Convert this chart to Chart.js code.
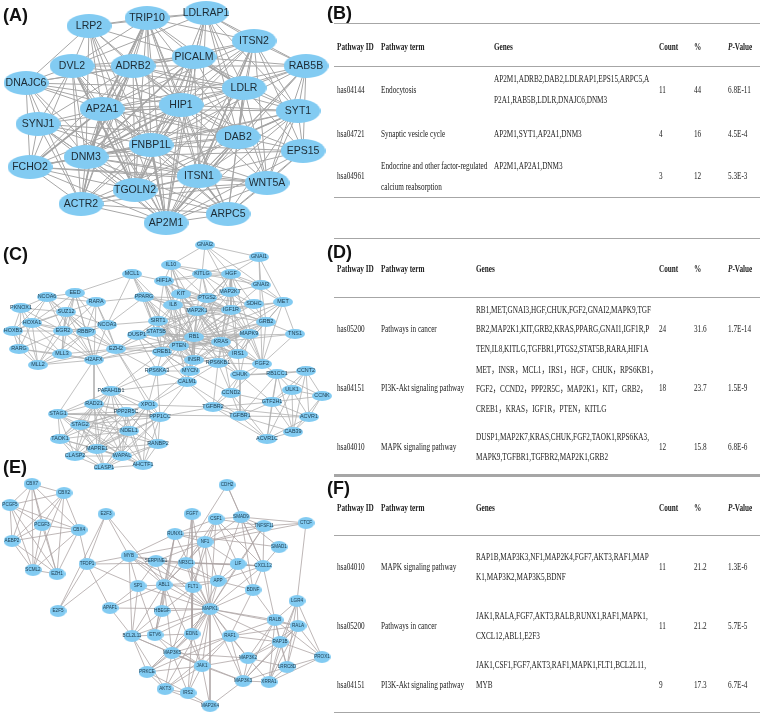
<!DOCTYPE html>
<html lang="en">

<head>
    <meta charset="UTF-8">
    <title>Hub gene networks and pathway tables</title>
    <script src="https://cdn.jsdelivr.net/npm/chart.js"></script>
    <style>
        body {
            background-color: #ffffff;
            margin: 0;
            padding: 0;
            width: 761px;
            height: 714px;
            position: relative;
            overflow: hidden;
            filter: blur(0.3px);
        }

        canvas {
            position: absolute;
            left: 0;
        }

        .cell {
            position: absolute;
            font-family: "Liberation Serif", "Noto Sans CJK SC", serif;
            font-size: 10.4px;
            color: #222222;
            white-space: nowrap;
            transform: translateY(-50%) scaleX(0.695);
            transform-origin: left center;
        }

        .head {
            font-weight: bold;
        }

        .tag {
            position: absolute;
            font-family: "Liberation Sans", Arial, sans-serif;
            font-weight: bold;
            font-size: 18px;
            color: #111111;
            transform: translateY(-50%);
        }

        .rule {
            position: absolute;
            left: 334px;
            width: 426px;
            height: 1px;
            background-color: #a6a6a6;
        }
    </style>
</head>

<body>
    <canvas id="netA" width="335" height="235" style="top:0"></canvas>
    <canvas id="netC" width="335" height="235" style="top:235px"></canvas>
    <canvas id="netE" width="335" height="244" style="top:470px"></canvas>

    <script>
        // Panel A
        const genesA = ["LRP2", "TRIP10", "LDLRAP1", "ITSN2", "RAB5B", "PICALM", "ADRB2", "DVL2", "DNAJC6", "LDLR", "HIP1", "AP2A1", "SYT1", "SYNJ1", "DAB2", "FNBP1L", "EPS15", "DNM3", "FCHO2", "ITSN1", "WNT5A", "TGOLN2", "ACTR2", "ARPC5", "AP2M1"];
        const xA = [89, 147, 206, 254, 306, 194, 133, 72, 26, 244, 181, 102, 298, 38, 238, 151, 303, 86, 30, 199, 267, 135, 81, 228, 166];
        const yA = [26, 18, 13, 41, 66, 57, 66, 66, 83, 88, 105, 109, 111, 124, 137, 145, 151, 157, 167, 176, 183, 190, 204, 214, 223];
        // neighbours by gene, in the order of genesA
        const linksA = [
            "LRP2:TRIP10 LDLRAP1 PICALM ADRB2 DVL2 DNAJC6 HIP1 AP2A1 FNBP1L DNM3 TGOLN2 AP2M1",
            "TRIP10:LDLRAP1 ITSN2 PICALM ADRB2 DVL2 LDLR HIP1 AP2A1 DAB2 FNBP1L DNM3 ITSN1 TGOLN2 AP2M1 ARPC5 ACTR2",
            "LDLRAP1:ITSN2 RAB5B PICALM LDLR HIP1 DAB2 FNBP1L ITSN1 WNT5A AP2M1 SYT1 DVL2",
            "ITSN2:RAB5B PICALM ADRB2 LDLR HIP1 AP2A1 SYT1 DAB2 FNBP1L EPS15 ITSN1 WNT5A AP2M1 DNM3",
            "RAB5B:PICALM ADRB2 LDLR HIP1 SYT1 DAB2 FNBP1L EPS15 ITSN1 WNT5A AP2A1 AP2M1",
            "PICALM:ADRB2 DVL2 LDLR HIP1 AP2A1 DAB2 FNBP1L DNM3 ITSN1 TGOLN2 AP2M1 SYT1 DNAJC6",
            "ADRB2:DVL2 DNAJC6 LDLR HIP1 AP2A1 SYNJ1 DAB2 FNBP1L DNM3 FCHO2 TGOLN2 ACTR2 AP2M1 SYT1",
            "DVL2:DNAJC6 HIP1 AP2A1 SYNJ1 FNBP1L DNM3 FCHO2 TGOLN2 ACTR2 AP2M1 LDLR",
            "DNAJC6:HIP1 AP2A1 SYNJ1 DNM3 FCHO2 TGOLN2 ACTR2 DAB2 LDLR",
            "LDLR:HIP1 AP2A1 SYT1 DAB2 FNBP1L EPS15 ITSN1 WNT5A AP2M1 ARPC5 TGOLN2 DNM3",
            "HIP1:AP2A1 SYT1 SYNJ1 DAB2 FNBP1L EPS15 DNM3 FCHO2 ITSN1 WNT5A TGOLN2 ACTR2 ARPC5 AP2M1",
            "AP2A1:SYNJ1 DAB2 FNBP1L DNM3 FCHO2 ITSN1 TGOLN2 ACTR2 ARPC5 AP2M1 SYT1",
            "SYT1:DAB2 FNBP1L EPS15 ITSN1 WNT5A ARPC5 AP2M1 DNM3",
            "SYNJ1:FNBP1L DNM3 FCHO2 ITSN1 TGOLN2 ACTR2 AP2M1 DAB2",
            "DAB2:FNBP1L EPS15 DNM3 ITSN1 WNT5A TGOLN2 ARPC5 AP2M1 ACTR2",
            "FNBP1L:EPS15 DNM3 FCHO2 ITSN1 WNT5A TGOLN2 ACTR2 ARPC5 AP2M1",
            "EPS15:ITSN1 WNT5A ARPC5 AP2M1 DNM3",
            "DNM3:FCHO2 ITSN1 TGOLN2 ACTR2 ARPC5 AP2M1 WNT5A",
            "FCHO2:ITSN1 TGOLN2 ACTR2 AP2M1 WNT5A",
            "ITSN1:WNT5A TGOLN2 ACTR2 ARPC5 AP2M1",
            "WNT5A:ARPC5 AP2M1 TGOLN2 ACTR2",
            "TGOLN2:ACTR2 ARPC5 AP2M1",
            "ACTR2:ARPC5 AP2M1",
            "ARPC5:AP2M1"
        ];
        const heavyLinksA = [
            "HIP1:TGOLN2 DNM3",
            "FNBP1L:AP2M1 FCHO2",
            "DAB2:AP2M1 SYT1",
            "PICALM:DNM3 LDLR",
            "AP2A1:ACTR2 FCHO2",
            "ITSN2:ITSN1",
            "LDLR:DAB2",
            "TRIP10:AP2A1",
            "ADRB2:DNM3",
            "DVL2:TGOLN2",
            "ITSN1:ARPC5"
        ];

        // Panel C
        const genesC = ["GNAI2", "GNAI1", "IL10", "MCL1", "KITLG", "HGF", "HIF1A", "GNAI3", "MAP2K7", "KIT", "EED", "NCOA6", "PPARG", "PTGS2", "MET", "RARA", "SDHC", "IL8", "PKNOX1", "IGF1R", "MAP2K1", "SUZ12", "SIRT1", "GRB2", "HOXA1", "NCOA3", "EGR2", "HOXB3", "STAT5B", "RBBP7", "MAPK9", "TNS1", "DUSP1", "RB1", "KRAS", "PTEN", "EZH2", "RARG", "CREB1", "IRS1", "MLL3", "H2AFX", "INSR", "FGF2", "RPS6KB1", "MLL2", "RPS6KA3", "MYCN", "CCNT2", "RB1CC1", "CHUK", "CALM1", "ULK1", "PAFAH1B1", "CCND2", "CCNK", "GTF2H1", "XPO1", "RAD21", "TGFBR2", "PPP2R5C", "STAG1", "TGFBR1", "PPP1CC", "ACVR1", "STAG2", "NDEL1", "CAB39", "TAOK1", "ACVR1C", "RANBP2", "MAPRE1", "CLASP2", "WAPAL", "AHCTF1", "CLASP1"];
        const xC = [205, 259, 171, 132, 202, 231, 164, 261, 230, 181, 75, 47, 144, 207, 283, 96, 254, 173, 21, 231, 197, 66, 158, 266, 32, 107, 63, 13, 156, 86, 249, 295, 137, 194, 221, 179, 116, 19, 162, 238, 62, 94, 194, 262, 218, 38, 157, 190, 306, 277, 240, 187, 292, 111, 231, 322, 272, 148, 94, 213, 126, 58, 240, 160, 309, 80, 129, 293, 60, 267, 158, 97, 75, 122, 143, 104];
        const yC = [245, 257, 265, 274, 274, 274, 281, 285, 292, 294, 293, 297, 297, 298, 302, 302, 304, 305, 308, 310, 311, 312, 321, 322, 323, 325, 331, 331, 332, 332, 334, 334, 335, 337, 342, 346, 349, 349, 352, 354, 354, 360, 360, 364, 363, 365, 371, 371, 371, 374, 375, 382, 390, 391, 393, 396, 402, 405, 404, 407, 412, 414, 416, 417, 417, 425, 431, 432, 439, 439, 444, 449, 456, 456, 465, 468];
        const linksC = [
            "NCOA6:EED RARA SUZ12 HOXA1 PKNOX1 EGR2 RBBP7 H2AFX HOXB3",
            "EED:RARA SUZ12 HOXA1 EGR2 RBBP7 MCL1 H2AFX EZH2 MLL3",
            "RARA:SUZ12 EGR2 RBBP7 NCOA3 H2AFX EZH2 PPARG",
            "PKNOX1:HOXA1 HOXB3 SUZ12 RARG EGR2 MLL2",
            "SUZ12:HOXA1 EGR2 RBBP7 H2AFX EZH2 MLL3 HOXB3 MLL2 NCOA3",
            "HOXA1:HOXB3 EGR2 RARG MLL2 MLL3 RBBP7 H2AFX",
            "NCOA3:RBBP7 EGR2 EZH2 H2AFX PPARG SIRT1 MCL1",
            "HOXB3:RARG MLL2 EGR2 MLL3",
            "EGR2:RBBP7 RARG MLL2 MLL3 H2AFX EZH2",
            "RBBP7:MLL3 H2AFX EZH2 MLL2",
            "RARG:MLL2 MLL3 H2AFX",
            "MLL2:MLL3 H2AFX EZH2",
            "MLL3:H2AFX EZH2",
            "H2AFX:EZH2 RB1 PTEN RAD21 PAFAH1B1 STAG1",
            "EZH2:RB1 PTEN DUSP1 CREB1 SIRT1 STAT5B XPO1 PPP1CC RPS6KA3",
            "GNAI2:KITLG HGF GNAI1 GNAI3 MAP2K7 IL10",
            "GNAI1:GNAI3 HGF MET FGF2 KITLG",
            "GNAI3:MET HGF IGF1R MAP2K7 GRB2 KITLG",
            "IL10:HIF1A KITLG MAP2K1 RB1 IL8 PTGS2 KIT HGF",
            "MCL1:PPARG HIF1A STAT5B RB1 PTEN",
            "HIF1A:KIT IL8 PTGS2 MAP2K1 SIRT1 PTEN RB1 IGF1R KITLG HGF INSR",
            "KITLG:KIT HGF MAP2K7 MAP2K1 IGF1R PTGS2 KRAS",
            "HGF:MET MAP2K7 IGF1R MAP2K1 PTGS2 GRB2 KRAS IRS1 FGF2 RB1",
            "MAP2K7:MAP2K1 IGF1R KRAS RB1 PTGS2 MAPK9 GRB2 SDHC",
            "KIT:IL8 PTGS2 MAP2K1 IGF1R RB1 KRAS GRB2 PTEN IRS1",
            "PPARG:SIRT1 IL8 RB1 PTEN STAT5B MAP2K1 IGF1R CREB1 INSR PTGS2",
            "PTGS2:MAP2K1 IGF1R RB1 PTEN KRAS IL8 MAPK9 CREB1 SDHC",
            "MET:GRB2 IGF1R TNS1 FGF2 RB1 MAP2K1 KRAS IRS1",
            "SDHC:IGF1R RB1",
            "IL8:MAP2K1 SIRT1 PTEN RB1 STAT5B CREB1 IGF1R INSR",
            "IGF1R:MAP2K1 RB1 KRAS PTEN IRS1 GRB2 MAPK9 FGF2 INSR RPS6KB1 STAT5B SIRT1",
            "MAP2K1:RB1 KRAS PTEN MAPK9 GRB2 IRS1 SIRT1 STAT5B INSR CREB1 RPS6KB1 DUSP1 FGF2 MYCN CHUK",
            "SIRT1:STAT5B RB1 PTEN DUSP1 CREB1 INSR KRAS MYCN",
            "GRB2:MAPK9 KRAS IRS1 FGF2 RB1 TNS1 INSR PTEN",
            "STAT5B:RB1 PTEN CREB1 DUSP1 KRAS INSR IRS1",
            "MAPK9:KRAS RB1 IRS1 FGF2 PTEN DUSP1 CREB1 RPS6KB1 CHUK",
            "TNS1:FGF2 PTEN RB1",
            "DUSP1:RB1 PTEN CREB1 MYCN RPS6KA3",
            "RB1:KRAS PTEN CREB1 INSR IRS1 MYCN RPS6KB1 CALM1 FGF2 RPS6KA3 CHUK",
            "KRAS:PTEN IRS1 INSR RPS6KB1 FGF2 CREB1 CHUK MYCN CCND2",
            "PTEN:CREB1 INSR IRS1 MYCN RPS6KB1 RPS6KA3 CALM1",
            "CREB1:INSR MYCN RPS6KA3 CALM1 RPS6KB1 PAFAH1B1",
            "IRS1:INSR RPS6KB1 FGF2 CHUK",
            "INSR:RPS6KB1 MYCN CALM1 RPS6KA3",
            "FGF2:RPS6KB1 CHUK RB1CC1 CCND2",
            "RPS6KB1:MYCN CALM1 CHUK TGFBR2 CCND2",
            "RPS6KA3:CALM1 MYCN PAFAH1B1 XPO1 PPP1CC",
            "MYCN:CALM1 CCND2 XPO1",
            "CALM1:XPO1 PPP1CC TGFBR2 PAFAH1B1 TGFBR1",
            "CCNT2:RB1CC1 ULK1 CCNK GTF2H1 ACVR1 CAB39 CHUK",
            "RB1CC1:CHUK ULK1 CCNK GTF2H1 ACVR1C TGFBR1 CAB39",
            "CHUK:CCND2 GTF2H1 TGFBR1 TGFBR2",
            "ULK1:CCNK GTF2H1 ACVR1 CAB39 ACVR1C",
            "CCND2:GTF2H1 TGFBR1 TGFBR2 ACVR1C",
            "CCNK:GTF2H1 ACVR1 CAB39",
            "GTF2H1:TGFBR1 TGFBR2 ACVR1 CAB39 ACVR1C",
            "TGFBR2:TGFBR1 ACVR1 ACVR1C XPO1 PPP1CC",
            "TGFBR1:ACVR1 ACVR1C CAB39 STAG1",
            "ACVR1:CAB39 ACVR1C",
            "CAB39:ACVR1C",
            "PAFAH1B1:RAD21 XPO1 PPP2R5C STAG1 PPP1CC STAG2 NDEL1 MAPRE1 TAOK1 CLASP2 WAPAL",
            "RAD21:XPO1 PPP2R5C STAG1 STAG2 NDEL1 TAOK1 MAPRE1 WAPAL CLASP2 PPP1CC CLASP1 AHCTF1",
            "XPO1:PPP2R5C PPP1CC NDEL1 RANBP2 STAG2 AHCTF1 MAPRE1 CLASP1",
            "PPP2R5C:STAG1 PPP1CC STAG2 NDEL1 TAOK1 MAPRE1 RANBP2 WAPAL CLASP2 AHCTF1",
            "STAG1:STAG2 TAOK1 MAPRE1 CLASP2 NDEL1 PPP1CC WAPAL",
            "PPP1CC:NDEL1 STAG2 RANBP2 WAPAL AHCTF1 MAPRE1 CLASP1",
            "STAG2:NDEL1 TAOK1 MAPRE1 CLASP2 WAPAL CLASP1 AHCTF1 RANBP2",
            "NDEL1:MAPRE1 RANBP2 WAPAL CLASP1 AHCTF1 CLASP2 TAOK1",
            "TAOK1:MAPRE1 CLASP2 CLASP1 WAPAL",
            "RANBP2:WAPAL AHCTF1 MAPRE1 CLASP1",
            "MAPRE1:CLASP2 WAPAL CLASP1 AHCTF1",
            "CLASP2:CLASP1 WAPAL",
            "WAPAL:AHCTF1 CLASP1",
            "AHCTF1:CLASP1"
        ];

        // Panel E
        const genesE = ["CBX7", "CBX2", "PCGF5", "PCGF3", "CBX4", "AEBP2", "SCML2", "EZH1", "E2F3", "TFDP1", "E2F5", "MYB", "APAF1", "SERPINE1", "RUNX1", "NF1", "NR3C1", "FGF7", "CSF1", "CDH2", "SMAD9", "TNFSF11", "SMAD1", "CTCF", "LIF", "CXCL12", "APP", "SP1", "ABL1", "FLT1", "BDNF", "LGR4", "HBEGF", "MAPK1", "RALB", "RALA", "BCL2L11", "ETV6", "EDN1", "RAF1", "RAP1B", "MAP3K5", "MAP3K2", "PRKCE", "JAK1", "LRRC8D", "PROX1", "MAP3K3", "XRRA1", "AKT3", "IRS2", "MAP2K4"];
        const xE = [32, 64, 10, 42, 79, 12, 33, 57, 106, 87, 58, 129, 110, 156, 175, 205, 186, 192, 216, 227, 241, 264, 279, 306, 238, 263, 218, 138, 164, 193, 253, 297, 162, 210, 275, 298, 132, 155, 192, 230, 280, 172, 248, 147, 202, 287, 322, 243, 269, 165, 188, 210];
        const yE = [484, 493, 505, 525, 530, 541, 570, 574, 514, 564, 611, 556, 608, 561, 534, 542, 563, 514, 519, 485, 517, 526, 547, 523, 564, 566, 581, 586, 585, 587, 590, 601, 611, 609, 620, 626, 636, 635, 634, 636, 642, 653, 658, 672, 666, 667, 657, 681, 682, 689, 693, 706];
        const linksE = [
            "CBX7:CBX2 PCGF5 PCGF3 CBX4 AEBP2 SCML2 EZH1",
            "CBX2:PCGF5 PCGF3 CBX4 AEBP2 SCML2 EZH1",
            "PCGF5:PCGF3 CBX4 AEBP2 SCML2 EZH1",
            "PCGF3:CBX4 AEBP2 SCML2 EZH1",
            "CBX4:AEBP2 SCML2 EZH1 TFDP1",
            "AEBP2:SCML2 EZH1",
            "SCML2:EZH1",
            "E2F3:TFDP1 E2F5 MYB ABL1",
            "TFDP1:MYB E2F5 APAF1 SP1 NR3C1",
            "E2F5:MYB",
            "MYB:RUNX1 SERPINE1 NR3C1 SP1 ABL1 MAPK1 BCL2L11 NF1 FLT1",
            "APAF1:SP1 ABL1 MAPK1 BCL2L11",
            "SERPINE1:NF1 APP MAPK1 ABL1 SP1",
            "RUNX1:NF1 ABL1 MAPK1 HBEGF ETV6",
            "NF1:CSF1 TNFSF11 CTCF NR3C1 MAPK1 APP ABL1 LIF FLT1",
            "NR3C1:MAPK1 CSF1 ABL1 APP CXCL12 LIF FLT1",
            "FGF7:EDN1 NR3C1 MAPK1",
            "CSF1:SMAD9 TNFSF11 CXCL12 MAPK1 RUNX1 LIF FLT1",
            "CDH2:SMAD9 CXCL12 ABL1",
            "SMAD9:TNFSF11 SMAD1 CXCL12 CTCF NF1 BDNF APP",
            "TNFSF11:CXCL12 LIF RUNX1 CTCF MAPK1",
            "SMAD1:CXCL12 RUNX1",
            "CTCF:LGR4",
            "LIF:MAPK1 APP BDNF CXCL12",
            "CXCL12:APP MAPK1 BDNF RALB SERPINE1",
            "APP:MAPK1 BDNF ABL1 EDN1 FLT1",
            "SP1:ABL1 MAPK1 BCL2L11 ETV6",
            "ABL1:FLT1 MAPK1 HBEGF ETV6 BCL2L11 MAP3K5 JAK1",
            "FLT1:MAPK1 HBEGF MAP3K5 EDN1",
            "BDNF:MAPK1 RAF1 RALB",
            "LGR4:RALB RALA RAP1B LRRC8D PROX1 XRRA1",
            "HBEGF:MAPK1 ETV6 BCL2L11",
            "MAPK1:RALB RALA RAF1 EDN1 BCL2L11 MAP3K5 JAK1 MAP3K2 MAP3K3 RAP1B PRKCE AKT3 IRS2 MAP2K4 ETV6",
            "RALB:RALA RAF1 RAP1B MAP3K2 MAP3K3 XRRA1 LRRC8D PROX1",
            "RALA:RAF1 RAP1B MAP3K3 XRRA1 LRRC8D PROX1 MAP3K2",
            "BCL2L11:JAK1 MAP3K5 AKT3 PRKCE EDN1",
            "ETV6:MAP3K5 JAK1",
            "EDN1:MAP3K5 PRKCE JAK1 IRS2",
            "RAF1:MAP3K5 JAK1 MAP3K2 MAP3K3 PRKCE RAP1B AKT3",
            "RAP1B:MAP3K2 MAP3K3 LRRC8D XRRA1 PROX1",
            "MAP3K5:MAP3K2 JAK1 PRKCE AKT3 IRS2 MAP3K3",
            "MAP3K2:JAK1 MAP3K3 XRRA1 LRRC8D",
            "PRKCE:JAK1 AKT3 IRS2",
            "JAK1:AKT3 IRS2 MAP2K4 MAP3K3",
            "LRRC8D:XRRA1 PROX1 MAP3K3",
            "PROX1:XRRA1",
            "MAP3K3:XRRA1 MAP2K4",
            "AKT3:IRS2 MAP2K4",
            "IRS2:MAP2K4"
        ];

        // Tables
        const tableHeads = ["Pathway ID", "Pathway term", "Genes", "Count", "%", "<i>P</i>-Value"];

        const idsB = ["has04144", "hsa04721", "hsa04961"];
        const termsB = [["Endocytosis"], ["Synaptic vesicle cycle"], ["Endocrine and other factor-regulated", "calcium reabsorption"]];
        const tableGenesB = [["AP2M1,ADRB2,DAB2,LDLRAP1,EPS15,ARPC5,A", "P2A1,RAB5B,LDLR,DNAJC6,DNM3"], ["AP2M1,SYT1,AP2A1,DNM3"], ["AP2M1,AP2A1,DNM3"]];
        const countsB = ["11", "4", "3"];
        const percentB = ["44", "16", "12"];
        const pValuesB = ["6.8E-11", "4.5E-4", "5.3E-3"];

        const idsD = ["has05200", "hsa04151", "hsa04010"];
        const termsD = [["Pathways in cancer"], ["PI3K-Akt signaling pathway"], ["MAPK signaling pathway"]];
        const tableGenesD = [
            ["RB1,MET,GNAI3,HGF,CHUK,FGF2,GNAI2,MAPK9,TGF", "BR2,MAP2K1,KIT,GRB2,KRAS,PPARG,GNAI1,IGF1R,P", "TEN,IL8,KITLG,TGFBR1,PTGS2,STAT5B,RARA,HIF1A"],
            ["MET，INSR，MCL1，IRS1，HGF，CHUK，RPS6KB1，", "FGF2，CCND2，PPP2R5C，MAP2K1，KIT，GRB2，", "CREB1，KRAS，IGF1R，PTEN，KITLG"],
            ["DUSP1,MAP2K7,KRAS,CHUK,FGF2,TAOK1,RPS6KA3,", "MAPK9,TGFBR1,TGFBR2,MAP2K1,GRB2"]
        ];
        const countsD = ["24", "18", "12"];
        const percentD = ["31.6", "23.7", "15.8"];
        const pValuesD = ["1.7E-14", "1.5E-9", "6.8E-6"];

        const idsF = ["hsa04010", "hsa05200", "hsa04151"];
        const termsF = [["MAPK signaling pathway"], ["Pathways in cancer"], ["PI3K-Akt signaling pathway"]];
        const tableGenesF = [
            ["RAP1B,MAP3K3,NF1,MAP2K4,FGF7,AKT3,RAF1,MAP", "K1,MAP3K2,MAP3K5,BDNF"],
            ["JAK1,RALA,FGF7,AKT3,RALB,RUNX1,RAF1,MAPK1,", "CXCL12,ABL1,E2F3"],
            ["JAK1,CSF1,FGF7,AKT3,RAF1,MAPK1,FLT1,BCL2L11,", "MYB"]
        ];
        const countsF = ["11", "11", "9"];
        const percentF = ["21.2", "21.2", "17.3"];
        const pValuesF = ["1.3E-6", "5.7E-5", "6.7E-4"];

        function ellipseImage(w, h) {
            const c = document.createElement('canvas');
            c.width = w;
            c.height = h;
            const g = c.getContext('2d');
            g.fillStyle = '#82cbf2';
            g.beginPath();
            g.ellipse(w / 2, h / 2, w / 2, h / 2, 0, 0, Math.PI * 2);
            g.fill();
            return c;
        }

        function edgeData(links, names, xs, ys) {
            const out = [];
            links.forEach(line => {
                const parts = line.split(':');
                const a = names.indexOf(parts[0]);
                parts[1].split(' ').forEach(other => {
                    const b = names.indexOf(other);
                    out.push({ x: xs[a], y: ys[a] }, { x: xs[b], y: ys[b] }, { x: NaN, y: NaN });
                });
            });
            return out;
        }

        const nodeLabels = {
            id: 'nodeLabels',
            afterDatasetsDraw(chart, args, opts) {
                const ctx = chart.ctx;
                const meta = chart.getDatasetMeta(0);
                ctx.save();
                ctx.font = opts.size + 'px "Liberation Sans", Arial, sans-serif';
                ctx.fillStyle = opts.color;
                ctx.textAlign = 'center';
                ctx.textBaseline = 'middle';
                meta.data.forEach((pt, i) => ctx.fillText(opts.names[i], pt.x, pt.y));
                ctx.restore();
            }
        };

        function drawNetwork(id, names, xs, ys, edgeSets, yMin, yMax, nodeW, nodeH, fontSize, textColor) {
            const datasets = [{
                data: names.map((n, i) => ({ x: xs[i], y: ys[i] })),
                pointStyle: ellipseImage(nodeW, nodeH),
                showLine: false
            }];
            edgeSets.forEach(set => datasets.push({
                data: set.data,
                showLine: true,
                spanGaps: false,
                borderColor: set.color,
                borderWidth: set.width,
                pointRadius: 0
            }));
            new Chart(document.getElementById(id), {
                type: 'scatter',
                data: { datasets: datasets },
                plugins: [nodeLabels],
                options: {
                    responsive: false,
                    animation: false,
                    layout: { padding: 0, autoPadding: false },
                    plugins: {
                        legend: { display: false },
                        tooltip: { enabled: false },
                        nodeLabels: { names: names, size: fontSize, color: textColor }
                    },
                    scales: {
                        x: { type: 'linear', display: false, min: 0, max: 335 },
                        y: { type: 'linear', display: false, reverse: true, min: yMin, max: yMax }
                    }
                }
            });
        }

        drawNetwork('netA', genesA, xA, yA, [
            { data: edgeData(linksA, genesA, xA, yA), color: '#a6a6a6', width: 1 },
            { data: edgeData(heavyLinksA, genesA, xA, yA), color: '#a0a0a0', width: 1.7 }
        ], 0, 235, 45, 24, 10.5, '#1c2a33');
        drawNetwork('netC', genesC, xC, yC, [
            { data: edgeData(linksC, genesC, xC, yC), color: '#b0b0b0', width: 0.8 }
        ], 235, 470, 20, 10, 5.4, '#1b3a4d');
        drawNetwork('netE', genesE, xE, yE, [
            { data: edgeData(linksE, genesE, xE, yE), color: '#ada5a5', width: 0.8 }
        ], 470, 714, 17, 12, 4.6, '#1b3a4d');

        // Tables are laid out as text lines and rules
        const columnX = [337, 381, 494, 659, 694, 728];

        function put(x, y, html, cls) {
            const d = document.createElement('div');
            d.className = cls;
            d.style.left = x + 'px';
            d.style.top = y + 'px';
            d.innerHTML = html;
            document.body.appendChild(d);
        }

        function rule(y, h) {
            const d = document.createElement('div');
            d.className = 'rule';
            d.style.top = y + 'px';
            d.style.height = (h || 1) + 'px';
            document.body.appendChild(d);
        }

        function lines(x, rowY, list, gap) {
            const start = rowY - (list.length - 1) * gap / 2;
            list.forEach((t, i) => put(x, start + i * gap, t, 'cell'));
        }

        function drawTable(t) {
            t.heads.forEach((h, i) => put(i === 2 ? t.genesX : columnX[i], t.headY, h, 'cell head'));
            t.ids.forEach((id, r) => {
                const y = t.rowY[r];
                put(columnX[0], y, id, 'cell');
                lines(columnX[1], y, t.terms[r], t.gap);
                if (t.genesTop && t.genesTop[r] !== undefined) {
                    t.genes[r].forEach((g, i) => put(t.genesX, t.genesTop[r] + i * t.gap, g, 'cell'));
                } else {
                    lines(t.genesX, y, t.genes[r], t.gap);
                }
                put(columnX[3], y, t.counts[r], 'cell');
                put(columnX[4], y, t.percent[r], 'cell');
                put(columnX[5], y, t.pValues[r], 'cell');
            });
        }

        drawTable({ heads: tableHeads, headY: 46, genesX: 494, gap: 21, rowY: [89, 133, 175], genesTop: [78, 133, 165], ids: idsB, terms: termsB, genes: tableGenesB, counts: countsB, percent: percentB, pValues: pValuesB });
        drawTable({ heads: tableHeads, headY: 268, genesX: 476, gap: 19.5, rowY: [328, 387, 446], ids: idsD, terms: termsD, genes: tableGenesD, counts: countsD, percent: percentD, pValues: pValuesD });
        drawTable({ heads: tableHeads, headY: 507, genesX: 476, gap: 20, rowY: [566, 625, 684], genesTop: [556, 615, 664], ids: idsF, terms: termsF, genes: tableGenesF, counts: countsF, percent: percentF, pValues: pValuesF });

        [23, 66, 197, 238, 297, 474, 535, 712].forEach(y => rule(y));
        rule(475, 2);

        put(3, 15, '(A)', 'tag');
        put(327, 13, '(B)', 'tag');
        put(3, 254, '(C)', 'tag');
        put(327, 252, '(D)', 'tag');
        put(3, 467, '(E)', 'tag');
        put(327, 488, '(F)', 'tag');
    </script>
</body>

</html>
